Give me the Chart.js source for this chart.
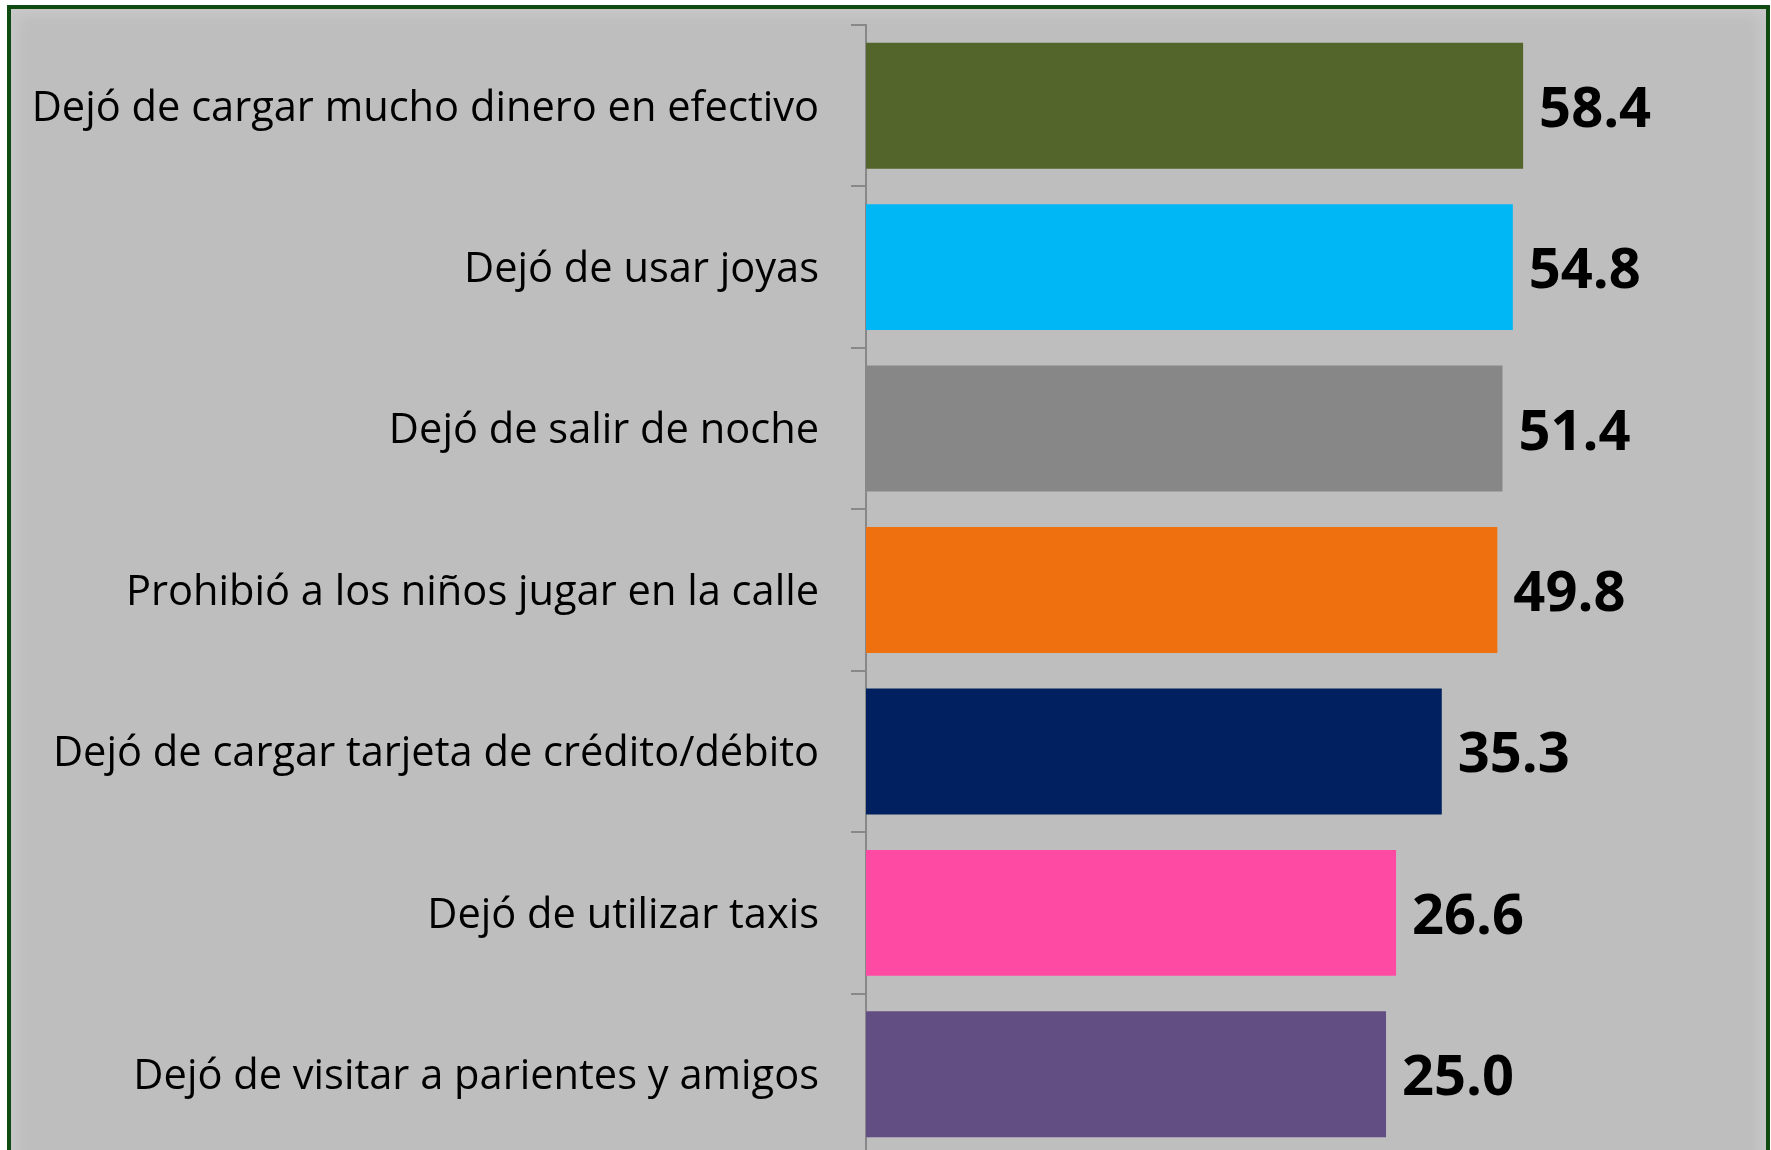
<!DOCTYPE html>
<html>
<head>
<meta charset="utf-8">
<script src="https://cdn.jsdelivr.net/npm/chart.js@4.4.0/dist/chart.umd.min.js"></script>
<style>
  html, body { margin: 0; padding: 0; width: 1771px; height: 1150px; overflow: hidden; background: #fff; }
  .frame {
    position: absolute; left: 7px; top: 5px; width: 1755px; height: 1170px;
    border: 4px solid #0f4a12; background: #bebebe;
    box-shadow: inset 0 0 14px 6px #c9c9c9;
  }
  #chart { position: absolute; left: 0; top: 0; }
</style>
</head>
<body>
<div class="frame"></div>
<canvas id="chart" width="1771" height="1160"></canvas>
<script>
// categories, top to bottom
const labels = [
  'Dejó de cargar mucho dinero en efectivo',
  'Dejó de usar joyas',
  'Dejó de salir de noche',
  'Prohibió a los niños jugar en la calle',
  'Dejó de cargar tarjeta de crédito/débito',
  'Dejó de utilizar taxis',
  'Dejó de visitar a parientes y amigos'
];
const values = [58.4, 54.8, 51.4, 49.8, 35.3, 26.6, 25.0];
const barColors = ['#53652a', '#00b7f5', '#878787', '#ee700e', '#00205f', '#ff4aa4', '#634e83'];

// value labels to the right of each bar
const valueLabels = {
  id: 'valueLabels',
  afterDatasetsDraw(chart) {
    const ctx = chart.ctx;
    const meta = chart.getDatasetMeta(0);
    ctx.save();
    ctx.font = 'bold 56px "Open Sans"';
    ctx.fillStyle = '#000';
    ctx.textAlign = 'left';
    ctx.textBaseline = 'middle';
    meta.data.forEach((bar, i) => {
      ctx.fillText(values[i].toFixed(1), bar.x + 16, bar.y + 5);
    });
    ctx.restore();
  }
};

new Chart(document.getElementById('chart').getContext('2d'), {
  type: 'bar',
  data: {
    labels: labels,
    datasets: [{
      data: values,
      backgroundColor: barColors,
      barPercentage: 0.78,
      categoryPercentage: 1
    }]
  },
  plugins: [valueLabels],
  options: {
    indexAxis: 'y',
    responsive: false,
    animation: false,
    layout: { padding: { top: 25, right: 161, bottom: 5, left: 0 } },
    plugins: {
      legend: { display: false },
      tooltip: { enabled: false }
    },
    scales: {
      x: { type: 'logarithmic', min: 1, max: 100, display: false },
      y: {
        afterFit(scale) {
          scale.width = 866;
          scale.paddingTop = 0;
          scale.paddingBottom = 0;
        },
        grid: { drawOnChartArea: false, offset: true, tickLength: 15, color: '#888', lineWidth: 2 },
        border: { display: true, color: '#888', width: 2 },
        ticks: {
          color: '#000',
          padding: 32,
          labelOffset: 3,
          autoSkip: false,
          font: { family: 'Open Sans', size: 41.6 }
        }
      }
    }
  }
});
</script>
</body>
</html>
